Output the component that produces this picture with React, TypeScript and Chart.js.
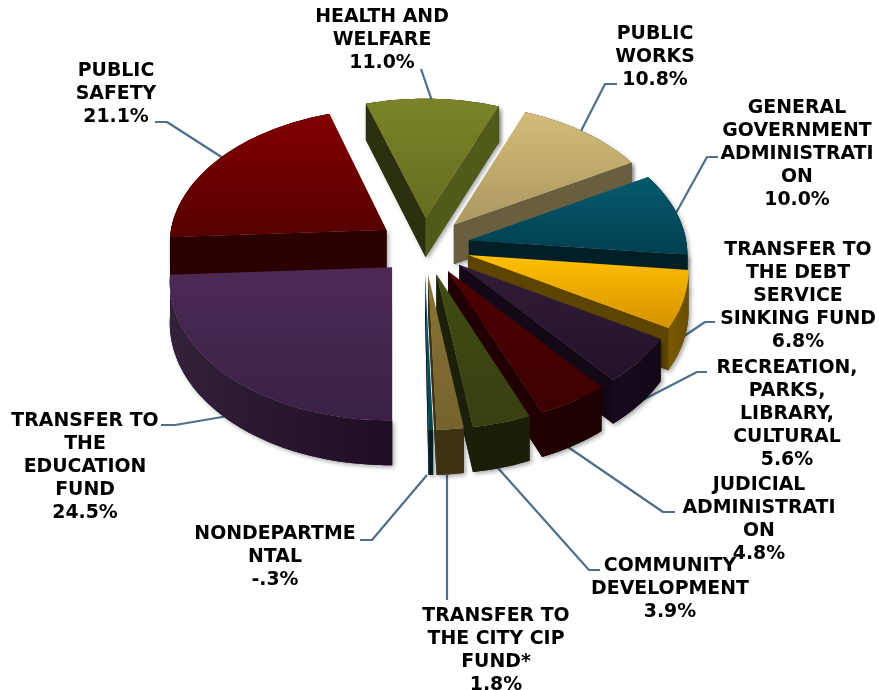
import React, { useEffect, useRef } from "react";
import { Chart, registerables } from "chart.js";

Chart.register(...registerables);

const categories = [
  "HEALTH AND WELFARE", "PUBLIC WORKS", "GENERAL GOVERNMENT ADMINISTRATION",
  "TRANSFER TO THE DEBT SERVICE SINKING FUND", "RECREATION, PARKS, LIBRARY, CULTURAL",
  "JUDICIAL ADMINISTRATION", "COMMUNITY DEVELOPMENT", "TRANSFER TO THE CITY CIP FUND*",
  "NONDEPARTMENTAL", "TRANSFER TO THE EDUCATION FUND", "PUBLIC SAFETY",
];
const values = [11.0, 10.8, 10.0, 6.8, 5.6, 4.8, 3.9, 1.8, -0.3, 24.5, 21.1];
const valueLabels = ["11.0%", "10.8%", "10.0%", "6.8%", "5.6%", "4.8%", "3.9%", "1.8%", "-.3%", "24.5%", "21.1%"];

const labelLines = [
  ["HEALTH AND", "WELFARE"],
  ["PUBLIC", "WORKS"],
  ["GENERAL", "GOVERNMENT", "ADMINISTRATI", "ON"],
  ["TRANSFER TO", "THE DEBT", "SERVICE", "SINKING FUND"],
  ["RECREATION,", "PARKS,", "LIBRARY,", "CULTURAL"],
  ["JUDICIAL", "ADMINISTRATI", "ON"],
  ["COMMUNITY", "DEVELOPMENT"],
  ["TRANSFER TO", "THE CITY CIP", "FUND*"],
  ["NONDEPARTME", "NTAL"],
  ["TRANSFER TO", "THE", "EDUCATION", "FUND"],
  ["PUBLIC", "SAFETY"],
];

const topLight = ["#7b8429", "#d2bc78", "#045a6c", "#ffc000", "#321c38", "#4f0000", "#404c14", "#8a7538", "#0a5565", "#4c2a55", "#820000"];
const topDark = ["#636d1e", "#ab9862", "#003f50", "#d69200", "#23122a", "#3c0000", "#374011", "#75622c", "#06424f", "#3a2144", "#560000"];
const outerWallLeft = ["#3a3f14", "#6a5e40", "#02222b", "#7a5a00", "#170a1e", "#220000", "#1a1e07", "#3e3215", "#021e24", "#33203b", "#2a0000"];
const outerWallRight = ["#3a3f14", "#6a5e40", "#02222b", "#6a4d00", "#120816", "#1c0000", "#1a1e07", "#3e3215", "#021e24", "#1e0d24", "#2a0000"];
const startFace = ["#2d3010", "#6a5e40", "#02222b", "#6a5000", "#170a1e", "#220000", "#1a1e07", "#3e3215", "#021e24", "#2a1831", "#2a0000"];
const endFace = ["#525a1a", "#6a5e40", "#021e26", "#5d4500", "#120816", "#200000", "#1c2008", "#3e3215", "#021e24", "#2a1831", "#2a0000"];

const labelCenterX = [382, 655, 797, 798, 787, 759, 670, 496, 275, 85, 116];
const labelFirstY = [17, 34, 108, 250, 368, 485, 566, 616, 534, 421, 71];
const leaders = [
  [[421, 69], [432, 101]],
  [[617, 84], [605, 84], [580, 133]],
  [[718, 157], [707, 157], [676, 213]],
  [[715, 322], [705, 322], [677, 341]],
  [[707, 372], [697, 372], [635, 404]],
  [[675, 512], [663, 512], [568, 447]],
  [[600, 570], [589, 570], [498, 468]],
  [[447, 475], [447, 600]],
  [[360, 540], [372, 540], [427, 475]],
  [[161, 425], [175, 425], [228, 416]],
  [[155, 122], [167, 122], [223, 158]],
];

const FLATTEN = 0.62;
const PERSPECTIVE = 0.00042;
const DEPTH = 40;
const FONT = "bold 18.9px 'DejaVu Sans', Verdana, sans-serif";
const LINE_H = 23;
const LINE_COLOR = "#4f6f8a";
const TEXT_COLOR = "#000000";

const pie3d = {
  id: "pie3d",
  beforeDatasetDraw(chart: any) {
    const ctx: CanvasRenderingContext2D = chart.ctx;
    const arcs: any[] = chart.getDatasetMeta(0).data;

    ctx.save();
    ctx.strokeStyle = LINE_COLOR;
    ctx.lineWidth = 2.2;
    ctx.lineJoin = "round";
    leaders.forEach((pts) => {
      ctx.beginPath();
      pts.forEach((p, i) => (i ? ctx.lineTo(p[0], p[1]) : ctx.moveTo(p[0], p[1])));
      ctx.stroke();
    });
    ctx.restore();

    const items = arcs.map((arc, index) => {
      const { x, y, startAngle, endAngle, outerRadius } = arc.getProps(["x", "y", "startAngle", "endAngle", "outerRadius"]);
      const mid = (startAngle + endAngle) / 2;
      const off = arc.options.offset || 0;
      const ox = Math.cos(mid) * off;
      const oy = Math.sin(mid) * off;
      const project = (X: number, Y: number, Z: number) => {
        const s = 1 / (1 - PERSPECTIVE * Y);
        return [x + X * s, y + (Y * FLATTEN + Z) * s];
      };
      const steps = Math.max(4, Math.ceil((endAngle - startAngle) * 40));
      const rim = (Z: number) => {
        const out: number[][] = [];
        for (let i = 0; i <= steps; i++) {
          const a = startAngle + ((endAngle - startAngle) * i) / steps;
          out.push(project(ox + Math.cos(a) * outerRadius, oy + Math.sin(a) * outerRadius, Z));
        }
        return out;
      };
      return {
        index, mid, startAngle, endAngle, apexTop: project(ox, oy, 0), apexBottom: project(ox, oy, DEPTH),
        rimTop: rim(0), rimBottom: rim(DEPTH),
      };
    });

    const fillPoly = (pts: number[][], fill: string | CanvasGradient) => {
      ctx.beginPath();
      pts.forEach((p, i) => (i ? ctx.lineTo(p[0], p[1]) : ctx.moveTo(p[0], p[1])));
      ctx.closePath();
      ctx.fillStyle = fill;
      ctx.fill();
    };

    items.sort((a, b) => Math.sin(a.mid) - Math.sin(b.mid));

    items.forEach((it) => {
      const i = it.index;
      const n = it.rimTop.length - 1;
      const startQuad = [it.apexTop, it.rimTop[0], it.rimBottom[0], it.apexBottom];
      const endQuad = [it.apexTop, it.rimTop[n], it.rimBottom[n], it.apexBottom];
      const wall = [...it.rimTop, ...[...it.rimBottom].reverse()];
      const top = [it.apexTop, ...it.rimTop];
      const showStart = Math.cos(it.startAngle) < 0;
      const showEnd = Math.cos(it.endAngle) > 0;

      const xs = wall.map((p) => p[0]);
      const wallFill = ctx.createLinearGradient(Math.min(...xs), 0, Math.max(...xs), 0);
      wallFill.addColorStop(0, outerWallLeft[i]);
      wallFill.addColorStop(1, outerWallRight[i]);

      const paintSides = () => {
        fillPoly(wall, wallFill);
        if (showStart) fillPoly(startQuad, startFace[i]);
        if (showEnd) fillPoly(endQuad, endFace[i]);
      };

      ctx.save();
      ctx.shadowColor = "rgba(0,0,0,0.35)";
      ctx.shadowBlur = 4;
      ctx.shadowOffsetX = 2;
      ctx.shadowOffsetY = 2;
      paintSides();
      ctx.restore();
      paintSides();

      const ys = top.map((p) => p[1]);
      const g = ctx.createLinearGradient(0, Math.min(...ys), 0, Math.max(...ys));
      g.addColorStop(0, topLight[i]);
      g.addColorStop(1, topDark[i]);
      fillPoly(top, g);
    });

    ctx.save();
    ctx.font = FONT;
    ctx.fillStyle = TEXT_COLOR;
    ctx.textAlign = "center";
    ctx.textBaseline = "middle";
    categories.forEach((_, i) => {
      [...labelLines[i], valueLabels[i]].forEach((line, j) => {
        ctx.fillText(line, labelCenterX[i], labelFirstY[i] + j * LINE_H);
      });
    });
    ctx.restore();
    return false;
  },
};

export default function App() {
  const ref = useRef<HTMLCanvasElement>(null);
  useEffect(() => {
    const chart = new Chart(ref.current!, {
      type: "pie",
      data: {
        labels: categories,
        datasets: [{ data: values, backgroundColor: topLight, borderWidth: 0, offset: 46, radius: 218 } as any],
      },
      options: {
        responsive: false,
        animation: false,
        rotation: -17.6,
        layout: { padding: { left: 0, top: 0, right: 31, bottom: 198 } },
        plugins: { legend: { display: false }, tooltip: { enabled: false } },
      },
      plugins: [pie3d],
    } as any);
    return () => chart.destroy();
  }, []);
  return (
    <div style={{ position: "absolute", left: 0, top: 0, width: 879, height: 690, background: "#fff" }}>
      <canvas ref={ref} width={879} height={690} style={{ display: "block", width: 879, height: 690 }} />
    </div>
  );
}
